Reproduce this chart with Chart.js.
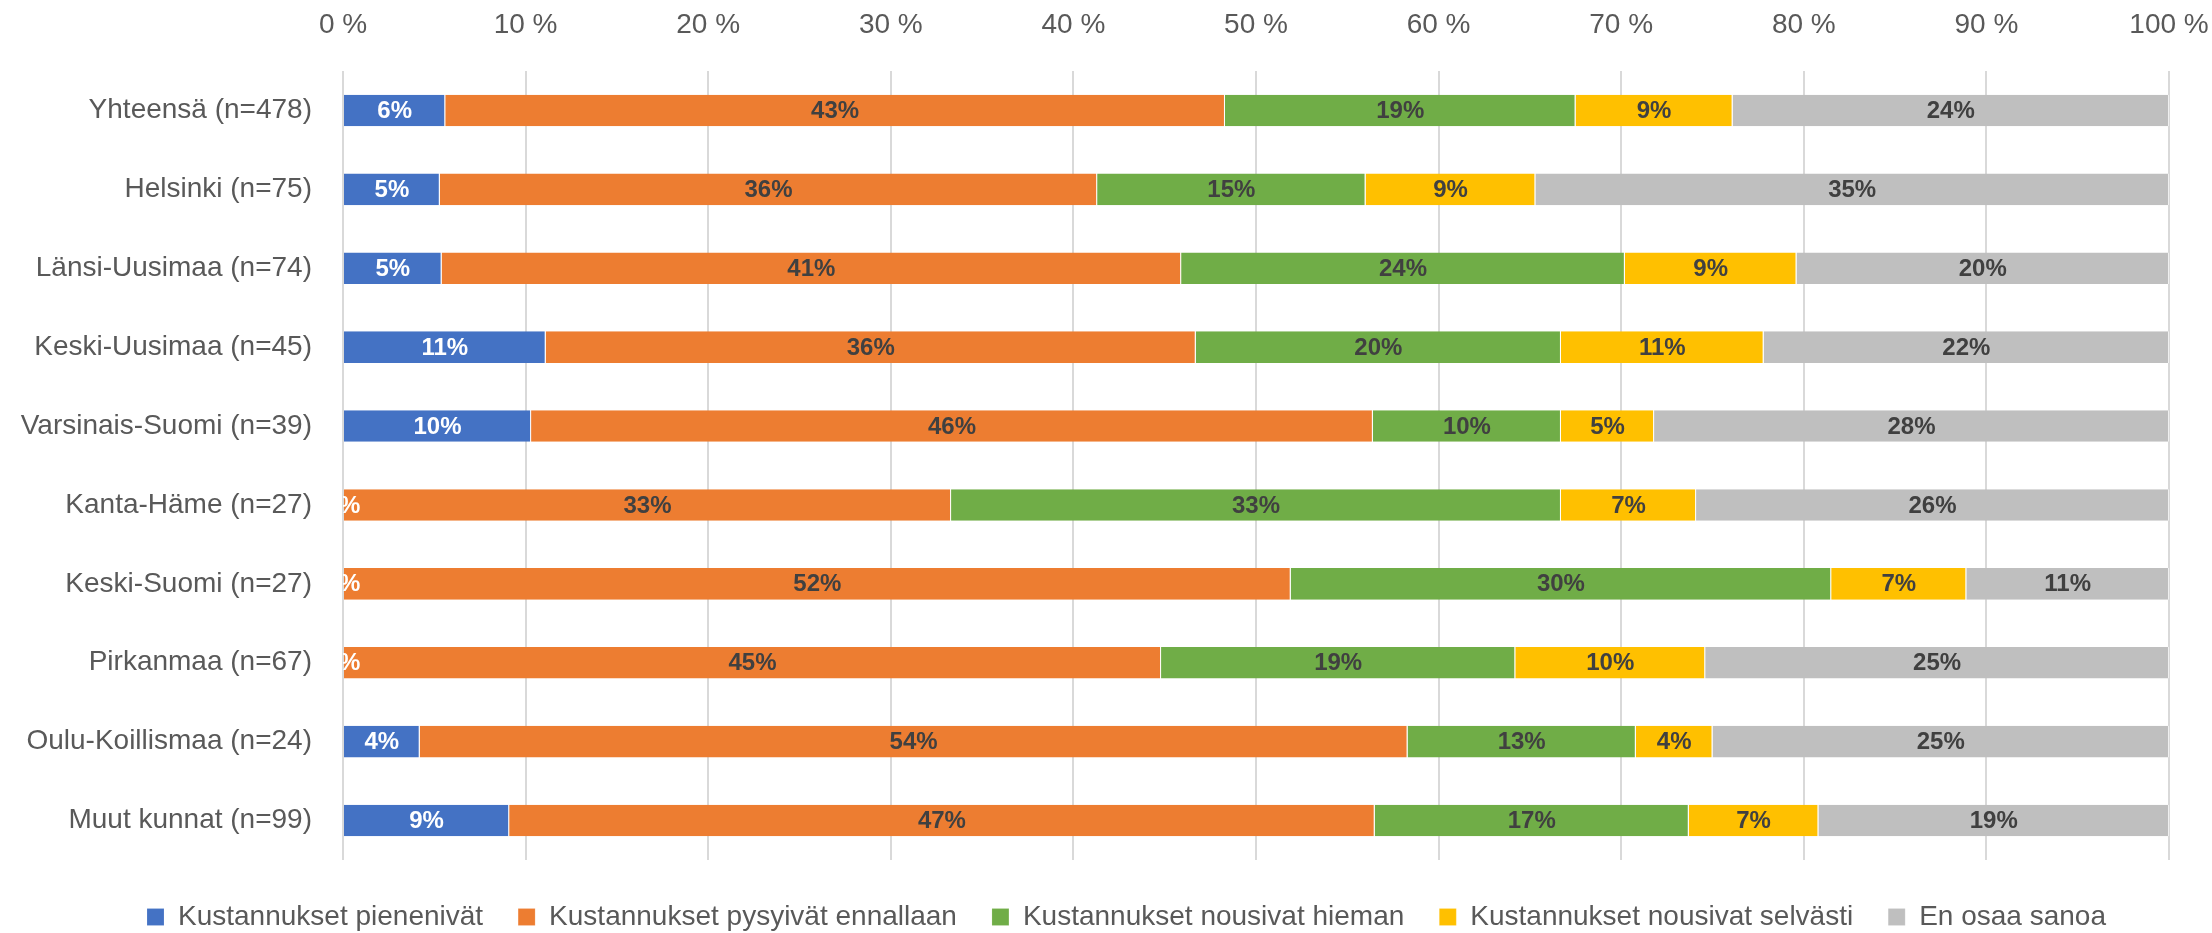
<!DOCTYPE html>
<html>
<head>
<meta charset="utf-8">
<script src="https://cdn.jsdelivr.net/npm/chart.js@4.4.0/dist/chart.umd.min.js"></script>
<style>
  html, body { margin: 0; padding: 0; background: #fff; }
  #wrap { width: 2212px; height: 933px; }
</style>
</head>
<body>
<div id="wrap"><canvas id="chart" width="2212" height="933"></canvas></div>
<script>
// ===== Data =====
const categories = [
  'Yhteensä (n=478)', 'Helsinki (n=75)', 'Länsi-Uusimaa (n=74)', 'Keski-Uusimaa (n=45)',
  'Varsinais-Suomi (n=39)', 'Kanta-Häme (n=27)', 'Keski-Suomi (n=27)', 'Pirkanmaa (n=67)',
  'Oulu-Koillismaa (n=24)', 'Muut kunnat (n=99)'
];
const seriesNames = [
  'Kustannukset pienenivät', 'Kustannukset pysyivät ennallaan', 'Kustannukset nousivat hieman',
  'Kustannukset nousivat selvästi', 'En osaa sanoa'
];
const pienenivat = [5.6, 5.3, 5.4, 11.1, 10.3, 0, 0, 0, 4.2, 9.1];
const pysyivat   = [42.7, 36.0, 40.5, 35.6, 46.1, 33.3, 51.9, 44.8, 54.1, 47.4];
const hieman     = [19.2, 14.7, 24.3, 20.0, 10.3, 33.4, 29.6, 19.4, 12.5, 17.2];
const selvasti   = [8.6, 9.3, 9.4, 11.1, 5.1, 7.4, 7.4, 10.4, 4.2, 7.1];
const eos        = [23.9, 34.7, 20.4, 22.2, 28.2, 25.9, 11.1, 25.4, 25.0, 19.2];
const xTicks = [0, 10, 20, 30, 40, 50, 60, 70, 80, 90, 100];

const colors = ['#4472C4', '#ED7D31', '#70AD47', '#FFC000', '#BFBFBF'];
const labelColors = ['#ffffff', '#404040', '#404040', '#404040', '#404040'];
const TEXT = '#595959';
const FONT = "'Liberation Sans', Arial, sans-serif";

Chart.defaults.font.family = FONT;
Chart.defaults.color = TEXT;

// ===== Labels inside the segments =====
const segmentLabels = {
  id: 'segmentLabels',
  afterDatasetsDraw(chart) {
    const { ctx, chartArea: a } = chart;
    ctx.save();
    ctx.beginPath();
    ctx.rect(a.left, a.top, a.right - a.left, a.bottom - a.top);
    ctx.clip();
    ctx.font = `bold 24px ${FONT}`;
    ctx.textAlign = 'center';
    ctx.textBaseline = 'middle';
    chart.data.datasets.forEach((ds, i) => {
      const meta = chart.getDatasetMeta(i);
      ctx.fillStyle = labelColors[i];
      meta.data.forEach((bar, j) => {
        const v = ds.data[j];
        ctx.fillText(Math.round(v) + '%', (bar.x + bar.base) / 2, bar.y + 1);
      });
    });
    ctx.restore();
  }
};

// legend in the original sits a bit right of centre
const legendShift = {
  id: 'legendShift',
  afterLayout(chart) {
    chart.legend.left += 42;
    chart.legend.right += 42;
  }
};

const seriesData = [pienenivat, pysyivat, hieman, selvasti, eos];

new Chart(document.getElementById('chart'), {
  type: 'bar',
  data: {
    labels: categories,
    datasets: seriesData.map((d, i) => ({
      label: seriesNames[i],
      data: d,
      backgroundColor: colors[i],
      borderColor: 'rgba(255,255,255,0.6)',
      borderWidth: { left: 0, right: 1, top: 0, bottom: 0 },
      borderSkipped: false,
      barPercentage: 0.4,
      categoryPercentage: 1
    }))
  },
  options: {
    indexAxis: 'y',
    responsive: false,
    animation: false,
    layout: { padding: { top: 0, right: 43, bottom: -8, left: 0 } },
    plugins: {
      tooltip: { enabled: false },
      legend: {
        position: 'bottom',
        title: { display: true, text: '', padding: { top: 7, bottom: 0 }, font: { size: 1, lineHeight: 1 } },
        labels: {
          boxWidth: 17, boxHeight: 17, padding: 35,
          color: TEXT, font: { size: 28 }
        }
      }
    },
    scales: {
      x: {
        position: 'top', stacked: true, min: 0, max: 100,
        afterBuildTicks: s => { s.ticks = xTicks.map(v => ({ value: v })); },
        afterFit: s => { s.height = 71; s.paddingLeft = 0; s.paddingRight = 0; },
        grid: { color: '#d9d9d9', lineWidth: 2, drawTicks: false },
        border: { display: false },
        ticks: { padding: 29, color: TEXT, font: { size: 28 }, callback: v => v + ' %' }
      },
      y: {
        stacked: true,
        afterFit: s => { s.width = 343; },
        grid: { display: false, drawTicks: false },
        border: { display: false },
        ticks: { padding: 31, color: TEXT, font: { size: 28 } }
      }
    }
  },
  plugins: [segmentLabels, legendShift]
});
</script>
</body>
</html>
